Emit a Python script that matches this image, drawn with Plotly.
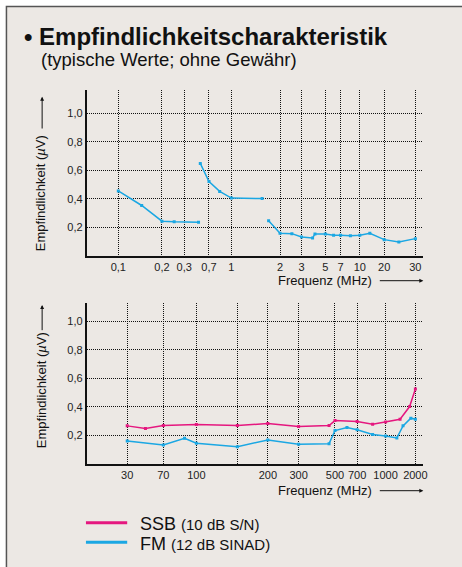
import numpy as np
import plotly.graph_objects as go

W, H = 462, 567
FONT = "Liberation Sans, Arial, sans-serif"
PINK = "#E5177F"
BLUE = "#1BA7E3"

# ---------------- data ----------------
# Top chart (MHz), FM sensitivity in µV, three band segments
top_ticks = [0.1, 0.2, 0.3, 0.7, 1, 2, 3, 5, 7, 10, 20, 30]
top_tick_labels = ["0,1", "0,2", "0,3", "0,7", "1", "2", "3", "5", "7", "10", "20", "30"]

fm_top_seg1_f = [0.1, 0.145, 0.2, 0.25, 0.49]
fm_top_seg1_v = [0.455, 0.353, 0.243, 0.238, 0.236]
fm_top_seg2_f = [0.52, 0.7, 0.83, 1.0, 1.55]
fm_top_seg2_v = [0.649, 0.522, 0.452, 0.405, 0.402]
fm_top_seg3_f = [1.7, 2, 2.5, 3, 3.8, 4.0, 5, 6, 7, 8.4, 10, 13.3, 20, 24.2, 30]
fm_top_seg3_v = [0.245, 0.158, 0.155, 0.132, 0.125, 0.153, 0.153, 0.144, 0.144,
                 0.141, 0.144, 0.158, 0.113, 0.097, 0.120]

# Bottom chart (MHz)
bot_ticks = [30, 70, 100, 150, 200, 300, 500, 700, 1000, 2000]
bot_tick_labels = ["30", "70", "100", "", "200", "300", "500", "700", "1000", "2000"]

ssb_f = [30, 46, 70, 100, 150, 200, 300, 460, 500, 700, 850, 1000, 1400, 1750, 2000]
ssb_v = [0.266, 0.247, 0.268, 0.275, 0.268, 0.282, 0.261, 0.268, 0.303, 0.296,
         0.278, 0.294, 0.313, 0.402, 0.525]
fm_bot_f = [30, 70, 88, 100, 150, 200, 300, 460, 500, 600, 700, 850, 1000, 1300, 1500, 1800, 2000]
fm_bot_v = [0.160, 0.132, 0.179, 0.144, 0.120, 0.167, 0.137, 0.141, 0.233, 0.254,
            0.238, 0.205, 0.195, 0.181, 0.266, 0.320, 0.313]

y_ticks = [0.2, 0.4, 0.6, 0.8, 1.0]
y_tick_labels = ["0,2", "0,4", "0,6", "0,8", "1,0"]

# --------------- axis scale (irregular printed frequency scale) ---------------
TOP_TICK_POS = [0, 44, 66.4, 91.4, 114, 163, 184.7, 208.7, 224, 243.4, 268, 299.4]
BOT_TICK_POS = [0, 36.4, 69.7, 111, 141.7, 172.7, 209.4, 231.7, 260.4, 290.4]


def scale(freqs, ticks, pos):
    return np.interp(np.log10(freqs), np.log10(ticks), pos)


def px(x):
    return x / W


def py(y):
    return 1 - y / H


fig = go.Figure()


def add_line(f, v, color, ticks, pos, xa, ya):
    fig.add_trace(go.Scatter(
        x=scale(f, ticks, pos), y=v, mode="lines+markers",
        line=dict(color=color, width=1.5),
        marker=dict(color=color, size=3, symbol="square"),
        xaxis=xa, yaxis=ya, showlegend=False, hoverinfo="skip"))


for f, v in [(fm_top_seg1_f, fm_top_seg1_v), (fm_top_seg2_f, fm_top_seg2_v),
             (fm_top_seg3_f, fm_top_seg3_v)]:
    add_line(f, v, BLUE, top_ticks, TOP_TICK_POS, "x", "y")

add_line(fm_bot_f, fm_bot_v, BLUE, bot_ticks, BOT_TICK_POS, "x2", "y2")
add_line(ssb_f, ssb_v, PINK, bot_ticks, BOT_TICK_POS, "x2", "y2")

tick_font = dict(family=FONT, size=11, color="#222")
grid = dict(showgrid=True, gridcolor="#111", gridwidth=1, griddash="1px,1px",
            showline=True, linecolor="#111", linewidth=1.5, zeroline=False,
            ticks="", tickfont=tick_font, fixedrange=True)

fig.update_layout(
    width=W, height=H,
    margin=dict(l=0, r=0, t=0, b=0),
    paper_bgcolor="white", plot_bgcolor="rgba(0,0,0,0)",
    font=dict(family=FONT, color="#111"),
    xaxis=dict(domain=[px(87.3), px(427)], range=[-32, 307.4],
               tickvals=TOP_TICK_POS, ticktext=top_tick_labels, anchor="y", **grid),
    yaxis=dict(domain=[py(255.7), py(90)], range=[0, 1.165],
               tickvals=y_ticks, ticktext=y_tick_labels, anchor="x", **grid),
    xaxis2=dict(domain=[px(87.3), px(427)], range=[-41, 298.4],
                tickvals=BOT_TICK_POS, ticktext=bot_tick_labels, anchor="y2", **grid),
    yaxis2=dict(domain=[py(463.7), py(303)], range=[0, 1.13],
                tickvals=y_ticks, ticktext=y_tick_labels, anchor="x2", **grid),
)

shapes = [
    dict(type="rect", xref="paper", yref="paper", x0=px(6.5), x1=px(470),
         y0=py(575), y1=py(6.5), fillcolor="#ECE8E4",
         line=dict(color="#555", width=1.5), layer="below"),
    dict(type="line", xref="paper", yref="paper", x0=px(86.7), x1=px(128.3),
         y0=py(522.7), y1=py(522.7), line=dict(color=PINK, width=3)),
    dict(type="line", xref="paper", yref="paper", x0=px(86.7), x1=px(128.3),
         y0=py(542.3), y1=py(542.3), line=dict(color=BLUE, width=3)),
]
fig.update_layout(shapes=shapes)

ann = []
ann.append(dict(text="<b>• Empfindlichkeitscharakteristik</b>", x=px(22), y=py(36),
                xanchor="left", yanchor="middle", font=dict(size=24, color="#111")))
ann.append(dict(text="(typische Werte; ohne Gewähr)", x=px(39), y=py(59.5),
                xanchor="left", yanchor="middle", font=dict(size=18.5, color="#111")))

for ytext, yarr_tail, yarr_head, xtitle_y in [(193, 130, 96.7, 280.7), (390, 331.7, 305, 490.7)]:
    ann.append(dict(text="Empfindlichkeit (<i>µ</i>V)", x=px(41.5), y=py(ytext),
                    textangle=-90, xanchor="center", yanchor="middle",
                    font=dict(size=13, color="#111")))
    ann.append(dict(text="", x=px(42.5), y=py(yarr_head), ax=0, ay=yarr_tail - yarr_head,
                    showarrow=True, arrowhead=2, arrowsize=0.8, arrowwidth=1,
                    arrowcolor="#111"))
    ann.append(dict(text="Frequenz (MHz)", x=px(377), y=py(xtitle_y),
                    xanchor="right", yanchor="middle", font=dict(size=13, color="#111")))
    ann.append(dict(text="", x=px(427), y=py(xtitle_y), ax=-45, ay=0,
                    showarrow=True, arrowhead=2, arrowsize=0.8, arrowwidth=1,
                    arrowcolor="#111"))

ann.append(dict(text="SSB <span style='font-size:15px'>(10 dB S/N)</span>", x=px(139),
                y=py(523.5), xanchor="left", yanchor="middle", font=dict(size=18, color="#111")))
ann.append(dict(text="FM <span style='font-size:15px'>(12 dB SINAD)</span>", x=px(139),
                y=py(544), xanchor="left", yanchor="middle", font=dict(size=18, color="#111")))

for a in ann:
    a.setdefault("xref", "paper")
    a.setdefault("yref", "paper")
    a.setdefault("showarrow", False)
    a.setdefault("font", dict(family=FONT))
    a["font"]["family"] = FONT
fig.update_layout(annotations=ann)

fig.write_html("out.html", config={"displayModeBar": False},
               post_script="document.body.style.margin='0';document.body.style.overflow='hidden';")
